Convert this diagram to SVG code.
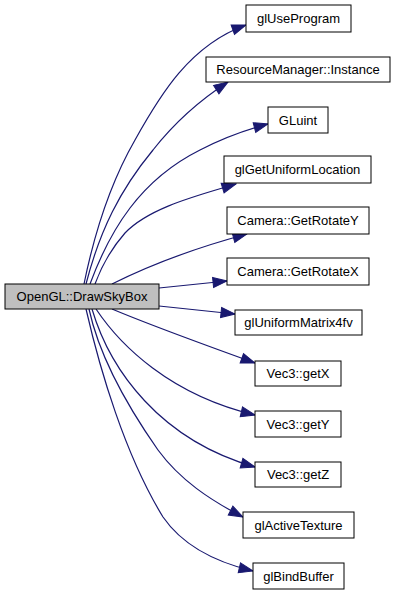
<svg xmlns="http://www.w3.org/2000/svg" width="396" height="595" viewBox="0 0 396 595">
  <style>
    .node rect { fill: #ffffff; stroke: #000000; stroke-width: 1; }
    .node.root rect { fill: #bfbfbf; }
    .node text { font-family: "Liberation Sans", Arial, sans-serif; font-size: 13px; fill: #000000; text-anchor: middle; }
    .edges path { fill: none; stroke: #191970; stroke-width: 1.2; marker-end: url(#arrow); }
  </style>
  <defs>
    <marker id="arrow" markerUnits="userSpaceOnUse" markerWidth="16" markerHeight="13" refX="15" refY="6.5" orient="auto">
      <path d="M1,1.5 L15,6.5 L1,11.5 Z" fill="#191970" stroke="#191970" stroke-width="1"/>
    </marker>
  </defs>

  <!-- call edges from OpenGL::DrawSkyBox -->
  <g id="edges" class="edges">
    <path d="M84,284 C95,230 112,180 135,140 C160,95 190,45 246,25"/>
    <path d="M86,284 C100,230 120,190 153,150 C175,122 200,100 228,82"/>
    <path d="M90,284 C110,230 140,180 200,150 C225,137 245,130 268,124"/>
    <path d="M95,284 C102,265 110,250 125,233 C150,207 200,195 236,184"/>
    <path d="M112,284 C150,265 195,248 247,234"/>
    <path d="M159,288 L227,281"/>
    <path d="M159,306 L235,314"/>
    <path d="M112,309 C150,325 205,345 255,363"/>
    <path d="M96,309 C120,345 170,395 255,415"/>
    <path d="M92,309 C110,370 160,440 255,467"/>
    <path d="M89,309 C100,360 130,410 158,450 C180,480 210,500 243,517"/>
    <path d="M86,309 C100,370 125,455 163,517 C183,546 215,562 253,571"/>
  </g>

  <g id="node-drawskybox" class="node root">
    <rect x="5" y="284" width="154" height="25"/>
    <text x="82" y="301">OpenGL::DrawSkyBox</text>
  </g>
  <g id="node-gluseprogram" class="node">
    <rect x="246" y="5" width="105" height="27"/>
    <text x="298.5" y="23">glUseProgram</text>
  </g>
  <g id="node-resourcemanager-instance" class="node">
    <rect x="206" y="57" width="184" height="25"/>
    <text x="298" y="74">ResourceManager::Instance</text>
  </g>
  <g id="node-gluint" class="node">
    <rect x="268" y="107" width="60" height="26"/>
    <text x="298" y="124.5">GLuint</text>
  </g>
  <g id="node-glgetuniformlocation" class="node">
    <rect x="224" y="156" width="147" height="27"/>
    <text x="297.5" y="174">glGetUniformLocation</text>
  </g>
  <g id="node-camera-getrotatey" class="node">
    <rect x="227" y="207" width="142" height="27"/>
    <text x="298" y="225">Camera::GetRotateY</text>
  </g>
  <g id="node-camera-getrotatex" class="node">
    <rect x="227" y="258" width="142" height="27"/>
    <text x="298" y="276">Camera::GetRotateX</text>
  </g>
  <g id="node-gluniformmatrix4fv" class="node">
    <rect x="235" y="310" width="127" height="25"/>
    <text x="298.5" y="327">glUniformMatrix4fv</text>
  </g>
  <g id="node-vec3-getx" class="node">
    <rect x="255" y="361" width="86" height="25"/>
    <text x="298" y="378">Vec3::getX</text>
  </g>
  <g id="node-vec3-gety" class="node">
    <rect x="255" y="411" width="86" height="26"/>
    <text x="298" y="428.5">Vec3::getY</text>
  </g>
  <g id="node-vec3-getz" class="node">
    <rect x="255" y="462" width="86" height="25"/>
    <text x="298" y="479">Vec3::getZ</text>
  </g>
  <g id="node-glactivetexture" class="node">
    <rect x="243" y="512" width="111" height="26"/>
    <text x="298.5" y="529.5">glActiveTexture</text>
  </g>
  <g id="node-glbindbuffer" class="node">
    <rect x="253" y="563" width="91" height="26"/>
    <text x="298.5" y="580.5">glBindBuffer</text>
  </g>
</svg>
